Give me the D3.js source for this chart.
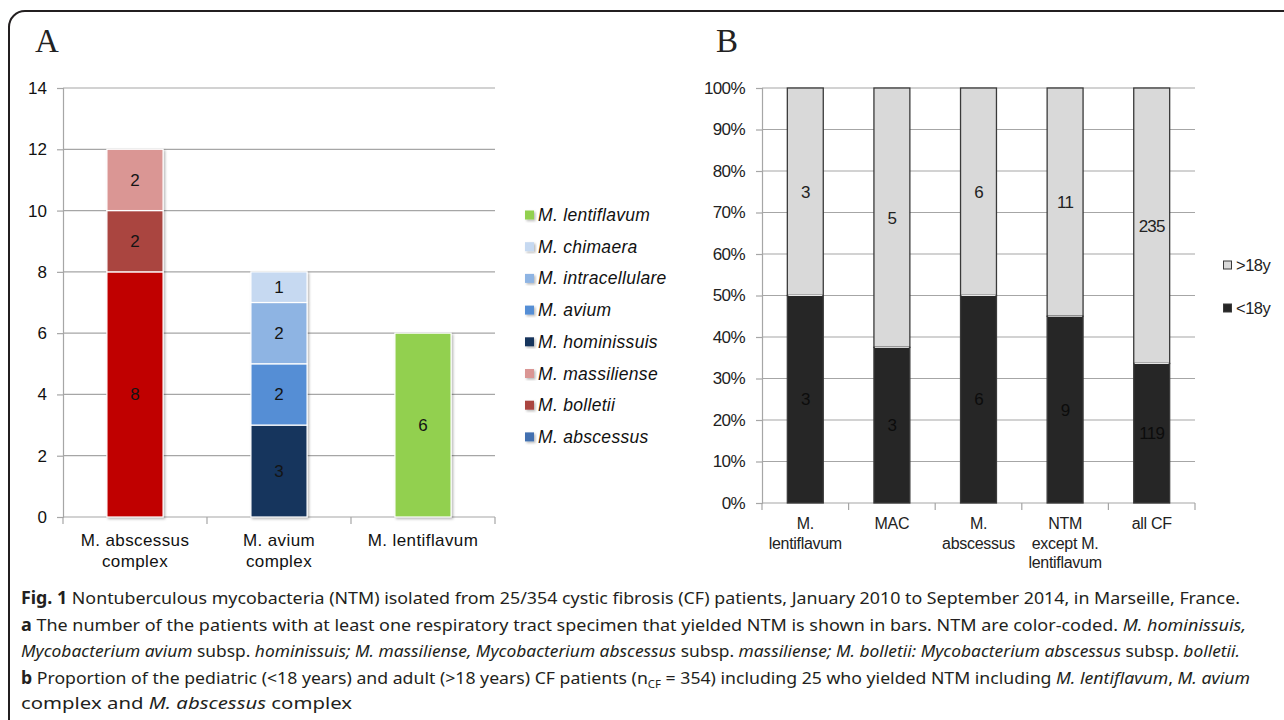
<!DOCTYPE html>
<html><head><meta charset="utf-8">
<script src="https://cdn.jsdelivr.net/npm/d3@7"></script>
<style>body{margin:0;background:#fff;} svg{display:block;}</style>
</head><body>
<svg id="c" width="1284" height="720"></svg>
<script>
// ---------- Panel A data ----------
const categoriesA = ["M. abscessus\ncomplex", "M. avium\ncomplex", "M. lentiflavum"];
const speciesA = ["M. abscessus", "M. bolletii", "M. massiliense", "M. hominissuis", "M. avium", "M. intracellulare", "M. chimaera", "M. lentiflavum"];
const abscessusA      = [8, 0, 0];
const bolletiiA       = [2, 0, 0];
const massilienseA    = [2, 0, 0];
const hominissuisA    = [0, 3, 0];
const aviumA          = [0, 2, 0];
const intracellulareA = [0, 2, 0];
const chimaeraA       = [0, 1, 0];
const lentiflavumA    = [0, 0, 6];
const yTicksA = [0, 2, 4, 6, 8, 10, 12, 14];

// ---------- Panel B data ----------
const categoriesB = ["M.\nlentiflavum", "MAC", "M.\nabscessus", "NTM\nexcept M.\nlentiflavum", "all CF"];
const under18 = [3, 3, 6, 9, 119];
const over18  = [3, 5, 6, 11, 235];
const yTicksB = [0, 0.1, 0.2, 0.3, 0.4, 0.5, 0.6, 0.7, 0.8, 0.9, 1.0];
const legendB = [">18y", "<18y"];

// ---------- styles ----------
const legendColorsA = ["#4270B0", "#AA4441", "#DA9694", "#17365D", "#558ED5", "#8EB4E3", "#C6D9F1", "#92D050"];
const barColorsA    = ["#C00000", "#AA4441", "#DA9694", "#17365D", "#558ED5", "#8EB4E3", "#C6D9F1", "#92D050"];
const gridCol = "#A6A6A6";

const svg = d3.select("#c");

// drop shadow filter
const defs = svg.append("defs");
const f = defs.append("filter").attr("id", "sh").attr("x", "-20%").attr("y", "-20%").attr("width", "150%").attr("height", "150%");
f.append("feDropShadow").attr("dx", 1.5).attr("dy", 1.5).attr("stdDeviation", 1.2).attr("flood-color", "#000").attr("flood-opacity", 0.28);

// frame
svg.append("path")
  .attr("d", "M9,760 V27 A16,16 0 0 1 25,11 H1300")
  .attr("fill", "none").attr("stroke", "#231F20").attr("stroke-width", 2);

// panel letters
svg.append("text").attr("x", 35).attr("y", 52).text("A")
  .attr("font-family", "Liberation Serif, DejaVu Serif, serif").attr("font-size", 33).attr("fill", "#222");
svg.append("text").attr("x", 716).attr("y", 52).text("B")
  .attr("font-family", "Liberation Serif, DejaVu Serif, serif").attr("font-size", 33).attr("fill", "#222");

// =============== PANEL A =================
{
  const x = d3.scaleBand().domain(categoriesA).range([63, 495]).padding(0);
  const y = d3.scaleLinear().domain([0, 14]).range([517, 88]);
  const g = svg.append("g").attr("font-family", "Liberation Sans, Arial, sans-serif");

  // grid
  g.selectAll("line.grid").data(yTicksA).join("line")
    .attr("x1", 63).attr("x2", 495).attr("y1", d => y(d)).attr("y2", d => y(d))
    .attr("stroke", gridCol).attr("stroke-width", 1.2);

  // y axis
  const ya = g.append("g").attr("transform", "translate(63,0)")
    .call(d3.axisLeft(y).tickValues(yTicksA).tickSize(6).tickPadding(10).tickFormat(d3.format("d")));
  ya.select(".domain").attr("stroke", gridCol).attr("stroke-width", 1.2);
  ya.selectAll(".tick line").attr("stroke", gridCol).attr("stroke-width", 1.2);
  ya.selectAll(".tick text").attr("font-size", 17).attr("fill", "#111").attr("font-family", "Liberation Sans, Arial, sans-serif");

  // x axis category ticks
  const xt = [63, ...categoriesA.map(c => x(c) + x.bandwidth())];
  g.selectAll("line.xt").data(categoriesA.map((c, i) => i === 0 ? x(c) : x(c)).concat([x(categoriesA[2]) + x.bandwidth()])).join("line")
    .attr("x1", d => d).attr("x2", d => d).attr("y1", 517).attr("y2", 524)
    .attr("stroke", gridCol).attr("stroke-width", 1.2);

  // x labels
  categoriesA.forEach(c => {
    const lines = c.split("\n");
    const t = g.append("text").attr("text-anchor", "middle").attr("font-size", 17).attr("fill", "#111")
      .attr("letter-spacing", 0.4);
    lines.forEach((ln, i) => {
      t.append("tspan").attr("x", x(c) + x.bandwidth() / 2).attr("y", 546 + i * 21).text(ln);
    });
  });

  // stacked bars
  const seriesArrays = [abscessusA, bolletiiA, massilienseA, hominissuisA, aviumA, intracellulareA, chimaeraA, lentiflavumA];
  const rows = categoriesA.map((c, i) => {
    const r = { cat: c };
    speciesA.forEach((s, k) => r[s] = seriesArrays[k][i]);
    return r;
  });
  const stack = d3.stack().keys(speciesA)(rows);
  const bw = x.bandwidth() * 0.39;

  const bars = g.append("g");
  categoriesA.forEach((c, ci) => {
    const bg = bars.append("g").attr("filter", "url(#sh)");
    stack.forEach((layer, k) => {
      const d = layer[ci];
      if (d[1] - d[0] <= 0) return;
      bg.append("rect")
        .attr("x", x(c) + (x.bandwidth() - bw) / 2).attr("width", bw)
        .attr("y", y(d[1])).attr("height", y(d[0]) - y(d[1]))
        .attr("fill", barColorsA[k]).attr("stroke", "#fff").attr("stroke-width", 1.2);
    });
  });
  categoriesA.forEach((c, ci) => {
    stack.forEach((layer, k) => {
      const d = layer[ci];
      const v = d[1] - d[0];
      if (v <= 0) return;
      g.append("text").attr("text-anchor", "middle").attr("font-size", 17).attr("fill", "#141414")
        .attr("x", x(c) + x.bandwidth() / 2).attr("y", (y(d[0]) + y(d[1])) / 2 + 6).text(v);
    });
  });

  // legend (reverse order)
  const leg = g.append("g");
  const order = speciesA.map((s, k) => k).reverse();
  order.forEach((k, i) => {
    const cy = 215 + i * 31.7;
    leg.append("rect").attr("x", 525).attr("y", cy - 4.5).attr("width", 9).attr("height", 9)
      .attr("fill", legendColorsA[k]).attr("filter", "url(#sh)");
    leg.append("text").attr("x", 538).attr("y", cy + 6).attr("font-size", 17.5).attr("font-style", "italic")
      .attr("fill", "#111").attr("letter-spacing", 0.3).text(speciesA[k]);
  });
}

// =============== PANEL B =================
{
  const x = d3.scaleBand().domain(categoriesB).range([762, 1195]).padding(0);
  const y = d3.scaleLinear().domain([0, 1]).range([503, 88]);
  const g = svg.append("g").attr("font-family", "Liberation Sans, Arial, sans-serif");

  g.selectAll("line.grid").data(yTicksB).join("line")
    .attr("x1", 762).attr("x2", 1195).attr("y1", d => y(d)).attr("y2", d => y(d))
    .attr("stroke", gridCol).attr("stroke-width", 1.2);

  const ya = g.append("g").attr("transform", "translate(762,0)")
    .call(d3.axisLeft(y).tickValues(yTicksB).tickSize(6).tickPadding(11).tickFormat(d3.format(".0%")));
  ya.select(".domain").attr("stroke", gridCol).attr("stroke-width", 1.2);
  ya.selectAll(".tick line").attr("stroke", gridCol).attr("stroke-width", 1.2);
  ya.selectAll(".tick text").attr("font-size", 17).attr("fill", "#222").attr("letter-spacing", -0.6)
    .attr("font-family", "Liberation Sans, Arial, sans-serif");

  const tickXs = categoriesB.map(c => x(c)).concat([x(categoriesB[categoriesB.length - 1]) + x.bandwidth()]);
  g.selectAll("line.xt").data(tickXs).join("line")
    .attr("x1", d => d).attr("x2", d => d).attr("y1", 503).attr("y2", 510)
    .attr("stroke", gridCol).attr("stroke-width", 1.2);

  categoriesB.forEach(c => {
    const lines = c.split("\n");
    const t = g.append("text").attr("text-anchor", "middle").attr("font-size", 16).attr("fill", "#222")
      .attr("letter-spacing", -0.3);
    lines.forEach((ln, i) => {
      t.append("tspan").attr("x", x(c) + x.bandwidth() / 2).attr("y", 529 + i * 19.5).text(ln);
    });
  });

  const bw = x.bandwidth() * 0.415;
  categoriesB.forEach((c, i) => {
    const tot = under18[i] + over18[i];
    const p = under18[i] / tot;
    const bx = x(c) + (x.bandwidth() - bw) / 2;
    // upper (>18y)
    g.append("rect").attr("x", bx).attr("width", bw).attr("y", y(1)).attr("height", y(p) - y(1))
      .attr("fill", "#D9D9D9").attr("stroke", "#3A3A3A").attr("stroke-width", 1.3);
    // lower (<18y)
    g.append("rect").attr("x", bx).attr("width", bw).attr("y", y(p)).attr("height", y(0) - y(p))
      .attr("fill", "#262626").attr("stroke", "#3A3A3A").attr("stroke-width", 1.3);
    g.append("line").attr("x1", bx + 1).attr("x2", bx + bw - 1).attr("y1", y(p)).attr("y2", y(p))
      .attr("stroke", "#E8E8E8").attr("stroke-width", 1);
    const cx = x(c) + x.bandwidth() / 2;
    g.append("text").attr("text-anchor", "middle").attr("font-size", 17).attr("letter-spacing", -0.8).attr("fill", "#222")
      .attr("x", cx).attr("y", (y(1) + y(p)) / 2 + 6).text(over18[i]);
    g.append("text").attr("text-anchor", "middle").attr("font-size", 17).attr("letter-spacing", -0.8).attr("fill", "#0c0c0c")
      .attr("x", cx).attr("y", (y(p) + y(0)) / 2 + 6).text(under18[i]);
  });

  const legFill = ["#D9D9D9", "#262626"];
  legendB.forEach((lab, i) => {
    const cy = 265 + i * 43;
    g.append("rect").attr("x", 1223.5).attr("y", cy - 4).attr("width", 8).attr("height", 8)
      .attr("fill", legFill[i]).attr("stroke", "#3A3A3A").attr("stroke-width", 1);
    g.append("text").attr("x", 1236).attr("y", cy + 6).attr("font-size", 16.5).attr("letter-spacing", -0.5)
      .attr("fill", "#222").text(lab);
  });
}

// =============== CAPTION =================
{
  const g = svg.append("g").attr("font-family", "Noto Sans, Open Sans, sans-serif").attr("font-size", 17).attr("fill", "#231F20");
  function line(y, parts, len) {
    const t = g.append("text").attr("x", 21).attr("y", y);
    if (len) t.attr("textLength", len).attr("lengthAdjust", "spacingAndGlyphs");
    parts.forEach(p => {
      const s = t.append("tspan").text(p[0]);
      if (p[1] === "b") s.attr("font-weight", "bold");
      if (p[1] === "i") s.attr("font-style", "italic");
      if (p[1] === "sub") s.attr("font-size", 11).attr("dy", 4);
      if (p[1] === "after") s.attr("dy", -4);
    });
    return t;
  }
  line(604, [["Fig. 1", "b"], [" Nontuberculous mycobacteria (NTM) isolated from 25/354 cystic fibrosis (CF) patients, January 2010 to September 2014, in Marseille, France."]], 1219);
  line(631, [["a", "b"], [" The number of the patients with at least one respiratory tract specimen that yielded NTM is shown in bars. NTM are color-coded. "], ["M. hominissuis,", "i"]], 1225);
  line(657, [["Mycobacterium avium", "i"], [" subsp. "], ["hominissuis; M. massiliense, Mycobacterium abscessus", "i"], [" subsp. "], ["massiliense; M. bolletii: Mycobacterium abscessus", "i"], [" subsp. "], ["bolletii.", "i"]], 1219);
  line(684, [["b", "b"], [" Proportion of the pediatric (<18 years) and adult (>18 years) CF patients (n"], ["CF", "sub"], [" = 354) including 25 who yielded NTM including ", "after"], ["M. lentiflavum", "i"], [", "], ["M. avium", "i"]], 1229);
  line(709, [["complex and "], ["M. abscessus", "i"], [" complex"]], 331);
}
</script>
</body></html>
